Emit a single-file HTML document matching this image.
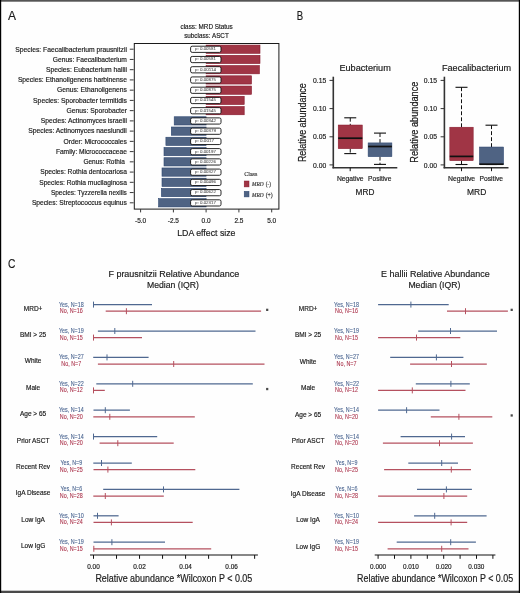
<!DOCTYPE html>
<html><head><meta charset="utf-8"><style>
html,body{margin:0;padding:0;background:#fff;}
svg{display:block;will-change:transform;}
text{stroke:currentColor;stroke-width:0.18px;paint-order:stroke;}
svg{font-family:"Liberation Sans",sans-serif;}
</style></head><body>
<svg width="520" height="593" viewBox="0 0 520 593">
<rect width="520" height="593" fill="#fefefe"/>
<text x="8.00" y="19.60" font-size="12.5" textLength="8.00" lengthAdjust="spacingAndGlyphs" fill="#1a1a1a" color="#1a1a1a">A</text>
<text x="180.50" y="28.80" font-size="6.8" textLength="52.30" lengthAdjust="spacingAndGlyphs" fill="#1a1a1a" color="#1a1a1a">class: MRD Status</text>
<text x="184.20" y="37.60" font-size="6.8" textLength="44.60" lengthAdjust="spacingAndGlyphs" fill="#1a1a1a" color="#1a1a1a">subclass: ASCT</text>
<text x="15.30" y="51.50" font-size="7.1" textLength="111.60" lengthAdjust="spacingAndGlyphs" fill="#1a1a1a" color="#1a1a1a">Species: Faecalibacterium prausnitzii</text>
<line x1="129.80" y1="49.20" x2="133.60" y2="49.20" stroke="#222" stroke-width="0.9"/>
<rect x="206.10" y="45.08" width="53.90" height="8.25" fill="#a03545" stroke="#86182c" stroke-width="0.6"/>
<text x="52.80" y="61.74" font-size="7.1" textLength="74.10" lengthAdjust="spacingAndGlyphs" fill="#1a1a1a" color="#1a1a1a">Genus: Faecalibacterium</text>
<line x1="129.80" y1="59.44" x2="133.60" y2="59.44" stroke="#222" stroke-width="0.9"/>
<rect x="206.10" y="55.32" width="53.90" height="8.25" fill="#a03545" stroke="#86182c" stroke-width="0.6"/>
<text x="45.90" y="71.98" font-size="7.1" textLength="81.00" lengthAdjust="spacingAndGlyphs" fill="#1a1a1a" color="#1a1a1a">Species: Eubacterium hallii</text>
<line x1="129.80" y1="69.68" x2="133.60" y2="69.68" stroke="#222" stroke-width="0.9"/>
<rect x="206.10" y="65.56" width="53.30" height="8.25" fill="#a03545" stroke="#86182c" stroke-width="0.6"/>
<text x="17.90" y="82.22" font-size="7.1" textLength="109.00" lengthAdjust="spacingAndGlyphs" fill="#1a1a1a" color="#1a1a1a">Species: Ethanoligenens harbinense</text>
<line x1="129.80" y1="79.92" x2="133.60" y2="79.92" stroke="#222" stroke-width="0.9"/>
<rect x="206.10" y="75.80" width="45.40" height="8.25" fill="#a03545" stroke="#86182c" stroke-width="0.6"/>
<text x="57.10" y="92.46" font-size="7.1" textLength="69.80" lengthAdjust="spacingAndGlyphs" fill="#1a1a1a" color="#1a1a1a">Genus: Ethanoligenens</text>
<line x1="129.80" y1="90.16" x2="133.60" y2="90.16" stroke="#222" stroke-width="0.9"/>
<rect x="206.10" y="86.04" width="45.40" height="8.25" fill="#a03545" stroke="#86182c" stroke-width="0.6"/>
<text x="33.10" y="102.70" font-size="7.1" textLength="93.80" lengthAdjust="spacingAndGlyphs" fill="#1a1a1a" color="#1a1a1a">Species: Sporobacter termitidis</text>
<line x1="129.80" y1="100.40" x2="133.60" y2="100.40" stroke="#222" stroke-width="0.9"/>
<rect x="206.10" y="96.28" width="38.10" height="8.25" fill="#a03545" stroke="#86182c" stroke-width="0.6"/>
<text x="66.50" y="112.94" font-size="7.1" textLength="60.40" lengthAdjust="spacingAndGlyphs" fill="#1a1a1a" color="#1a1a1a">Genus: Sporobacter</text>
<line x1="129.80" y1="110.64" x2="133.60" y2="110.64" stroke="#222" stroke-width="0.9"/>
<rect x="206.10" y="106.52" width="38.10" height="8.25" fill="#a03545" stroke="#86182c" stroke-width="0.6"/>
<text x="40.70" y="123.18" font-size="7.1" textLength="86.20" lengthAdjust="spacingAndGlyphs" fill="#1a1a1a" color="#1a1a1a">Species: Actinomyces israelii</text>
<line x1="129.80" y1="120.88" x2="133.60" y2="120.88" stroke="#222" stroke-width="0.9"/>
<rect x="174.20" y="116.76" width="31.90" height="8.25" fill="#4f6383" stroke="#2d4670" stroke-width="0.6"/>
<text x="28.20" y="133.42" font-size="7.1" textLength="98.70" lengthAdjust="spacingAndGlyphs" fill="#1a1a1a" color="#1a1a1a">Species: Actinomyces naeslundii</text>
<line x1="129.80" y1="131.12" x2="133.60" y2="131.12" stroke="#222" stroke-width="0.9"/>
<rect x="171.30" y="127.00" width="34.80" height="8.25" fill="#4f6383" stroke="#2d4670" stroke-width="0.6"/>
<text x="63.50" y="143.66" font-size="7.1" textLength="63.40" lengthAdjust="spacingAndGlyphs" fill="#1a1a1a" color="#1a1a1a">Order: Micrococcales</text>
<line x1="129.80" y1="141.36" x2="133.60" y2="141.36" stroke="#222" stroke-width="0.9"/>
<rect x="165.90" y="137.24" width="40.20" height="8.25" fill="#4f6383" stroke="#2d4670" stroke-width="0.6"/>
<text x="55.90" y="153.90" font-size="7.1" textLength="71.00" lengthAdjust="spacingAndGlyphs" fill="#1a1a1a" color="#1a1a1a">Family: Micrococcaceae</text>
<line x1="129.80" y1="151.60" x2="133.60" y2="151.60" stroke="#222" stroke-width="0.9"/>
<rect x="164.00" y="147.48" width="42.10" height="8.25" fill="#4f6383" stroke="#2d4670" stroke-width="0.6"/>
<text x="83.40" y="164.14" font-size="7.1" textLength="41.60" lengthAdjust="spacingAndGlyphs" fill="#1a1a1a" color="#1a1a1a">Genus: Rothia</text>
<line x1="129.80" y1="161.84" x2="133.60" y2="161.84" stroke="#222" stroke-width="0.9"/>
<rect x="164.00" y="157.72" width="42.10" height="8.25" fill="#4f6383" stroke="#2d4670" stroke-width="0.6"/>
<text x="40.20" y="174.38" font-size="7.1" textLength="86.70" lengthAdjust="spacingAndGlyphs" fill="#1a1a1a" color="#1a1a1a">Species: Rothia dentocariosa</text>
<line x1="129.80" y1="172.08" x2="133.60" y2="172.08" stroke="#222" stroke-width="0.9"/>
<rect x="162.00" y="167.96" width="44.10" height="8.25" fill="#4f6383" stroke="#2d4670" stroke-width="0.6"/>
<text x="39.20" y="184.62" font-size="7.1" textLength="87.70" lengthAdjust="spacingAndGlyphs" fill="#1a1a1a" color="#1a1a1a">Species: Rothia mucilaginosa</text>
<line x1="129.80" y1="182.32" x2="133.60" y2="182.32" stroke="#222" stroke-width="0.9"/>
<rect x="162.00" y="178.20" width="44.10" height="8.25" fill="#4f6383" stroke="#2d4670" stroke-width="0.6"/>
<text x="50.90" y="194.86" font-size="7.1" textLength="76.00" lengthAdjust="spacingAndGlyphs" fill="#1a1a1a" color="#1a1a1a">Species: Tyzzerella nexilis</text>
<line x1="129.80" y1="192.56" x2="133.60" y2="192.56" stroke="#222" stroke-width="0.9"/>
<rect x="161.40" y="188.44" width="44.70" height="8.25" fill="#4f6383" stroke="#2d4670" stroke-width="0.6"/>
<text x="31.90" y="205.10" font-size="7.1" textLength="95.00" lengthAdjust="spacingAndGlyphs" fill="#1a1a1a" color="#1a1a1a">Species: Streptococcus equinus</text>
<line x1="129.80" y1="202.80" x2="133.60" y2="202.80" stroke="#222" stroke-width="0.9"/>
<rect x="158.60" y="198.68" width="47.50" height="8.25" fill="#4f6383" stroke="#2d4670" stroke-width="0.6"/>
<rect x="190.60" y="46.20" width="30.40" height="6.20" fill="#fff" stroke="#111" stroke-width="0.9" rx="1.6"/>
<text x="195.00" y="50.10" font-size="4.3" textLength="21.00" lengthAdjust="spacingAndGlyphs" fill="#505050" color="#505050" style="stroke-width:0.06px">p: 0.00581</text>
<rect x="190.60" y="56.44" width="30.40" height="6.20" fill="#fff" stroke="#111" stroke-width="0.9" rx="1.6"/>
<text x="195.00" y="60.34" font-size="4.3" textLength="21.00" lengthAdjust="spacingAndGlyphs" fill="#505050" color="#505050" style="stroke-width:0.06px">p: 0.00581</text>
<rect x="190.60" y="66.68" width="30.40" height="6.20" fill="#fff" stroke="#111" stroke-width="0.9" rx="1.6"/>
<text x="195.00" y="70.58" font-size="4.3" textLength="21.00" lengthAdjust="spacingAndGlyphs" fill="#505050" color="#505050" style="stroke-width:0.06px">p: 0.00114</text>
<rect x="190.60" y="76.92" width="30.40" height="6.20" fill="#fff" stroke="#111" stroke-width="0.9" rx="1.6"/>
<text x="195.00" y="80.82" font-size="4.3" textLength="21.00" lengthAdjust="spacingAndGlyphs" fill="#505050" color="#505050" style="stroke-width:0.06px">p: 0.00875</text>
<rect x="190.60" y="87.16" width="30.40" height="6.20" fill="#fff" stroke="#111" stroke-width="0.9" rx="1.6"/>
<text x="195.00" y="91.06" font-size="4.3" textLength="21.00" lengthAdjust="spacingAndGlyphs" fill="#505050" color="#505050" style="stroke-width:0.06px">p: 0.00875</text>
<rect x="190.60" y="97.40" width="30.40" height="6.20" fill="#fff" stroke="#111" stroke-width="0.9" rx="1.6"/>
<text x="195.00" y="101.30" font-size="4.3" textLength="21.00" lengthAdjust="spacingAndGlyphs" fill="#505050" color="#505050" style="stroke-width:0.06px">p: 0.01545</text>
<rect x="190.60" y="107.64" width="30.40" height="6.20" fill="#fff" stroke="#111" stroke-width="0.9" rx="1.6"/>
<text x="195.00" y="111.54" font-size="4.3" textLength="21.00" lengthAdjust="spacingAndGlyphs" fill="#505050" color="#505050" style="stroke-width:0.06px">p: 0.01545</text>
<rect x="190.60" y="117.88" width="30.40" height="6.20" fill="#fff" stroke="#111" stroke-width="0.9" rx="1.6"/>
<text x="195.00" y="121.78" font-size="4.3" textLength="21.00" lengthAdjust="spacingAndGlyphs" fill="#505050" color="#505050" style="stroke-width:0.06px">p: 0.00342</text>
<rect x="190.60" y="128.12" width="30.40" height="6.20" fill="#fff" stroke="#111" stroke-width="0.9" rx="1.6"/>
<text x="195.00" y="132.02" font-size="4.3" textLength="21.00" lengthAdjust="spacingAndGlyphs" fill="#505050" color="#505050" style="stroke-width:0.06px">p: 0.00379</text>
<rect x="190.60" y="138.36" width="30.40" height="6.20" fill="#fff" stroke="#111" stroke-width="0.9" rx="1.6"/>
<text x="195.00" y="142.26" font-size="4.3" textLength="19.00" lengthAdjust="spacingAndGlyphs" fill="#505050" color="#505050" style="stroke-width:0.06px">p: 0.0017</text>
<rect x="190.60" y="148.60" width="30.40" height="6.20" fill="#fff" stroke="#111" stroke-width="0.9" rx="1.6"/>
<text x="195.00" y="152.50" font-size="4.3" textLength="21.00" lengthAdjust="spacingAndGlyphs" fill="#505050" color="#505050" style="stroke-width:0.06px">p: 0.00197</text>
<rect x="190.60" y="158.84" width="30.40" height="6.20" fill="#fff" stroke="#111" stroke-width="0.9" rx="1.6"/>
<text x="195.00" y="162.74" font-size="4.3" textLength="21.00" lengthAdjust="spacingAndGlyphs" fill="#505050" color="#505050" style="stroke-width:0.06px">p: 0.00226</text>
<rect x="190.60" y="169.08" width="30.40" height="6.20" fill="#fff" stroke="#111" stroke-width="0.9" rx="1.6"/>
<text x="195.00" y="172.98" font-size="4.3" textLength="21.00" lengthAdjust="spacingAndGlyphs" fill="#505050" color="#505050" style="stroke-width:0.06px">p: 0.00327</text>
<rect x="190.60" y="179.32" width="30.40" height="6.20" fill="#fff" stroke="#111" stroke-width="0.9" rx="1.6"/>
<text x="195.00" y="183.22" font-size="4.3" textLength="21.00" lengthAdjust="spacingAndGlyphs" fill="#505050" color="#505050" style="stroke-width:0.06px">p: 0.00496</text>
<rect x="190.60" y="189.56" width="30.40" height="6.20" fill="#fff" stroke="#111" stroke-width="0.9" rx="1.6"/>
<text x="195.00" y="193.46" font-size="4.3" textLength="21.00" lengthAdjust="spacingAndGlyphs" fill="#505050" color="#505050" style="stroke-width:0.06px">p: 0.00622</text>
<rect x="190.60" y="199.80" width="30.40" height="6.20" fill="#fff" stroke="#111" stroke-width="0.9" rx="1.6"/>
<text x="195.00" y="203.70" font-size="4.3" textLength="21.00" lengthAdjust="spacingAndGlyphs" fill="#505050" color="#505050" style="stroke-width:0.06px">p: 0.02317</text>
<rect x="134.30" y="43.50" width="144.60" height="165.60" fill="none" stroke="#1a1a1a" stroke-width="1.0"/>
<line x1="140.60" y1="209.20" x2="140.60" y2="212.40" stroke="#222" stroke-width="0.9"/>
<text x="140.60" y="222.90" font-size="7.4" text-anchor="middle" textLength="11.20" lengthAdjust="spacingAndGlyphs" fill="#1a1a1a" color="#1a1a1a">-5.0</text>
<line x1="173.40" y1="209.20" x2="173.40" y2="212.40" stroke="#222" stroke-width="0.9"/>
<text x="173.40" y="222.90" font-size="7.4" text-anchor="middle" textLength="11.20" lengthAdjust="spacingAndGlyphs" fill="#1a1a1a" color="#1a1a1a">-2.5</text>
<line x1="206.10" y1="209.20" x2="206.10" y2="212.40" stroke="#222" stroke-width="0.9"/>
<text x="206.10" y="222.90" font-size="7.4" text-anchor="middle" textLength="9.04" lengthAdjust="spacingAndGlyphs" fill="#1a1a1a" color="#1a1a1a">0.0</text>
<line x1="238.90" y1="209.20" x2="238.90" y2="212.40" stroke="#222" stroke-width="0.9"/>
<text x="238.90" y="222.90" font-size="7.4" text-anchor="middle" textLength="9.04" lengthAdjust="spacingAndGlyphs" fill="#1a1a1a" color="#1a1a1a">2.5</text>
<line x1="271.70" y1="209.20" x2="271.70" y2="212.40" stroke="#222" stroke-width="0.9"/>
<text x="271.70" y="222.90" font-size="7.4" text-anchor="middle" textLength="9.04" lengthAdjust="spacingAndGlyphs" fill="#1a1a1a" color="#1a1a1a">5.0</text>
<text x="177.20" y="235.70" font-size="9.4" textLength="58.30" lengthAdjust="spacingAndGlyphs" fill="#1a1a1a" color="#1a1a1a">LDA effect size</text>
<text x="244.20" y="175.80" font-size="6.3" textLength="13.10" lengthAdjust="spacingAndGlyphs" fill="#333" color="#333" font-family="Liberation Serif">Class</text>
<rect x="244.20" y="181.00" width="4.80" height="5.90" fill="#a03545" stroke="#86182c" stroke-width="0.5"/>
<rect x="244.20" y="191.30" width="4.80" height="5.60" fill="#4f6383" stroke="#2d4670" stroke-width="0.5"/>
<text x="252.10" y="186.20" font-size="6.3" textLength="11.50" lengthAdjust="spacingAndGlyphs" fill="#333" color="#333" font-family="Liberation Serif" font-style="italic">MRD</text>
<text x="265.70" y="186.20" font-size="6.3" textLength="5.20" lengthAdjust="spacingAndGlyphs" fill="#333" color="#333" font-family="Liberation Serif">(-)</text>
<text x="252.10" y="196.50" font-size="6.3" textLength="11.50" lengthAdjust="spacingAndGlyphs" fill="#333" color="#333" font-family="Liberation Serif" font-style="italic">MRD</text>
<text x="265.70" y="196.50" font-size="6.3" textLength="7.00" lengthAdjust="spacingAndGlyphs" fill="#333" color="#333" font-family="Liberation Serif">(+)</text>
<text x="296.70" y="19.60" font-size="12.6" textLength="6.40" lengthAdjust="spacingAndGlyphs" fill="#1a1a1a" color="#1a1a1a">B</text>
<text x="339.40" y="71.00" font-size="9.4" textLength="51.40" lengthAdjust="spacingAndGlyphs" fill="#1a1a1a" color="#1a1a1a">Eubacterium</text>
<line x1="333.30" y1="76.70" x2="333.30" y2="168.30" stroke="#333" stroke-width="1.6"/>
<line x1="332.50" y1="167.70" x2="397.30" y2="167.70" stroke="#333" stroke-width="1.6"/>
<line x1="329.50" y1="80.40" x2="333.30" y2="80.40" stroke="#333" stroke-width="1.0"/>
<text x="326.30" y="83.00" font-size="7.2" text-anchor="end" textLength="13.20" lengthAdjust="spacingAndGlyphs" fill="#1a1a1a" color="#1a1a1a">0.15</text>
<line x1="329.50" y1="108.60" x2="333.30" y2="108.60" stroke="#333" stroke-width="1.0"/>
<text x="326.30" y="111.20" font-size="7.2" text-anchor="end" textLength="13.20" lengthAdjust="spacingAndGlyphs" fill="#1a1a1a" color="#1a1a1a">0.10</text>
<line x1="329.50" y1="136.80" x2="333.30" y2="136.80" stroke="#333" stroke-width="1.0"/>
<text x="326.30" y="139.40" font-size="7.2" text-anchor="end" textLength="13.20" lengthAdjust="spacingAndGlyphs" fill="#1a1a1a" color="#1a1a1a">0.05</text>
<line x1="329.50" y1="164.90" x2="333.30" y2="164.90" stroke="#333" stroke-width="1.0"/>
<text x="326.30" y="167.50" font-size="7.2" text-anchor="end" textLength="13.20" lengthAdjust="spacingAndGlyphs" fill="#1a1a1a" color="#1a1a1a">0.00</text>
<line x1="350.20" y1="167.70" x2="350.20" y2="171.20" stroke="#111" stroke-width="1.0"/>
<line x1="379.90" y1="167.70" x2="379.90" y2="171.20" stroke="#111" stroke-width="1.0"/>
<text x="337.00" y="181.30" font-size="6.9" textLength="26.60" lengthAdjust="spacingAndGlyphs" fill="#1a1a1a" color="#1a1a1a">Negative</text>
<text x="368.10" y="181.30" font-size="6.9" textLength="23.30" lengthAdjust="spacingAndGlyphs" fill="#1a1a1a" color="#1a1a1a">Positive</text>
<text x="355.60" y="195.00" font-size="9.2" textLength="18.80" lengthAdjust="spacingAndGlyphs" fill="#1a1a1a" color="#1a1a1a">MRD</text>
<text transform="translate(306.30,162.10) rotate(-90)" x="0" y="0" font-size="10.0" textLength="78.90" lengthAdjust="spacingAndGlyphs" fill="#1a1a1a">Relative abundance</text>
<line x1="350.25" y1="117.80" x2="350.25" y2="125.00" stroke="#111" stroke-width="1.0" stroke-dasharray="3.9,2.1"/>
<line x1="344.25" y1="117.80" x2="356.25" y2="117.80" stroke="#111" stroke-width="1.1"/>
<line x1="350.25" y1="148.70" x2="350.25" y2="153.60" stroke="#111" stroke-width="1.0" stroke-dasharray="3.9,2.1"/>
<line x1="344.25" y1="153.60" x2="356.25" y2="153.60" stroke="#111" stroke-width="1.1"/>
<rect x="338.20" y="125.00" width="24.10" height="23.70" fill="#a03545" stroke="#86182c" stroke-width="0.5"/>
<line x1="338.20" y1="138.20" x2="362.30" y2="138.20" stroke="#111" stroke-width="1.7"/>
<line x1="380.00" y1="133.10" x2="380.00" y2="142.90" stroke="#111" stroke-width="1.0" stroke-dasharray="3.9,2.1"/>
<line x1="374.00" y1="133.10" x2="386.00" y2="133.10" stroke="#111" stroke-width="1.1"/>
<line x1="380.00" y1="156.70" x2="380.00" y2="164.40" stroke="#111" stroke-width="1.0" stroke-dasharray="3.9,2.1"/>
<line x1="374.00" y1="164.40" x2="386.00" y2="164.40" stroke="#111" stroke-width="1.1"/>
<rect x="368.10" y="142.90" width="23.80" height="13.80" fill="#4f6383" stroke="#2d4670" stroke-width="0.5"/>
<line x1="368.10" y1="146.50" x2="391.90" y2="146.50" stroke="#111" stroke-width="1.7"/>
<text x="442.00" y="71.00" font-size="9.4" textLength="69.20" lengthAdjust="spacingAndGlyphs" fill="#1a1a1a" color="#1a1a1a">Faecalibacterium</text>
<line x1="444.40" y1="76.70" x2="444.40" y2="168.30" stroke="#333" stroke-width="1.6"/>
<line x1="443.60" y1="167.70" x2="508.50" y2="167.70" stroke="#333" stroke-width="1.6"/>
<line x1="440.60" y1="80.40" x2="444.40" y2="80.40" stroke="#333" stroke-width="1.0"/>
<text x="437.00" y="83.00" font-size="7.2" text-anchor="end" textLength="13.20" lengthAdjust="spacingAndGlyphs" fill="#1a1a1a" color="#1a1a1a">0.15</text>
<line x1="440.60" y1="108.60" x2="444.40" y2="108.60" stroke="#333" stroke-width="1.0"/>
<text x="437.00" y="111.20" font-size="7.2" text-anchor="end" textLength="13.20" lengthAdjust="spacingAndGlyphs" fill="#1a1a1a" color="#1a1a1a">0.10</text>
<line x1="440.60" y1="136.80" x2="444.40" y2="136.80" stroke="#333" stroke-width="1.0"/>
<text x="437.00" y="139.40" font-size="7.2" text-anchor="end" textLength="13.20" lengthAdjust="spacingAndGlyphs" fill="#1a1a1a" color="#1a1a1a">0.05</text>
<line x1="440.60" y1="164.90" x2="444.40" y2="164.90" stroke="#333" stroke-width="1.0"/>
<text x="437.00" y="167.50" font-size="7.2" text-anchor="end" textLength="13.20" lengthAdjust="spacingAndGlyphs" fill="#1a1a1a" color="#1a1a1a">0.00</text>
<line x1="461.50" y1="167.70" x2="461.50" y2="171.20" stroke="#111" stroke-width="1.0"/>
<line x1="491.50" y1="167.70" x2="491.50" y2="171.20" stroke="#111" stroke-width="1.0"/>
<text x="448.00" y="181.30" font-size="6.9" textLength="27.20" lengthAdjust="spacingAndGlyphs" fill="#1a1a1a" color="#1a1a1a">Negative</text>
<text x="479.60" y="181.30" font-size="6.9" textLength="23.40" lengthAdjust="spacingAndGlyphs" fill="#1a1a1a" color="#1a1a1a">Positive</text>
<text x="467.00" y="195.00" font-size="9.2" textLength="19.30" lengthAdjust="spacingAndGlyphs" fill="#1a1a1a" color="#1a1a1a">MRD</text>
<text transform="translate(418.00,162.70) rotate(-90)" x="0" y="0" font-size="10.0" textLength="81.10" lengthAdjust="spacingAndGlyphs" fill="#1a1a1a">Relative abundance</text>
<line x1="461.50" y1="87.30" x2="461.50" y2="127.20" stroke="#111" stroke-width="1.0" stroke-dasharray="3.9,2.1"/>
<line x1="455.50" y1="87.30" x2="467.50" y2="87.30" stroke="#111" stroke-width="1.1"/>
<line x1="461.50" y1="160.70" x2="461.50" y2="164.50" stroke="#111" stroke-width="1.0" stroke-dasharray="3.9,2.1"/>
<line x1="455.50" y1="164.50" x2="467.50" y2="164.50" stroke="#111" stroke-width="1.1"/>
<rect x="449.80" y="127.20" width="23.40" height="33.50" fill="#a03545" stroke="#86182c" stroke-width="0.5"/>
<line x1="449.80" y1="156.40" x2="473.20" y2="156.40" stroke="#111" stroke-width="1.7"/>
<line x1="491.50" y1="125.20" x2="491.50" y2="147.00" stroke="#111" stroke-width="1.0" stroke-dasharray="3.9,2.1"/>
<line x1="485.50" y1="125.20" x2="497.50" y2="125.20" stroke="#111" stroke-width="1.1"/>
<line x1="485.50" y1="164.50" x2="497.50" y2="164.50" stroke="#111" stroke-width="1.1"/>
<rect x="479.40" y="147.00" width="24.20" height="17.50" fill="#4f6383" stroke="#2d4670" stroke-width="0.5"/>
<line x1="479.40" y1="164.20" x2="503.60" y2="164.20" stroke="#111" stroke-width="1.7"/>
<text x="8.00" y="267.80" font-size="12.3" textLength="7.40" lengthAdjust="spacingAndGlyphs" fill="#1a1a1a" color="#1a1a1a">C</text>
<text x="108.40" y="277.10" font-size="9.6" textLength="130.90" lengthAdjust="spacingAndGlyphs" fill="#1a1a1a" color="#1a1a1a">F prausnitzii Relative Abundance</text>
<text x="147.00" y="288.20" font-size="9.6" textLength="52.00" lengthAdjust="spacingAndGlyphs" fill="#1a1a1a" color="#1a1a1a">Median (IQR)</text>
<text x="33.10" y="310.50" font-size="7.0" text-anchor="middle" textLength="18.63" lengthAdjust="spacingAndGlyphs" fill="#1a1a1a" color="#1a1a1a">MRD+</text>
<text x="71.30" y="306.60" font-size="6.3" text-anchor="middle" textLength="24.76" lengthAdjust="spacingAndGlyphs" fill="#415d8b" color="#415d8b" style="stroke-width:0.08px">Yes, N=18</text>
<text x="71.30" y="313.10" font-size="6.3" text-anchor="middle" textLength="22.86" lengthAdjust="spacingAndGlyphs" fill="#aa3049" color="#aa3049" style="stroke-width:0.08px">No, N=16</text>
<line x1="93.50" y1="304.60" x2="152.00" y2="304.60" stroke="#4f6890" stroke-width="1.25"/>
<line x1="93.50" y1="301.60" x2="93.50" y2="307.60" stroke="#4f6890" stroke-width="1.0"/>
<line x1="105.70" y1="311.20" x2="261.10" y2="311.20" stroke="#b5505f" stroke-width="1.25"/>
<line x1="126.40" y1="308.20" x2="126.40" y2="314.20" stroke="#b5505f" stroke-width="1.0"/>
<rect x="266.10" y="308.70" width="2.20" height="2.30" fill="#4a4a4a"/>
<text x="33.10" y="336.90" font-size="7.0" text-anchor="middle" textLength="26.23" lengthAdjust="spacingAndGlyphs" fill="#1a1a1a" color="#1a1a1a">BMI &gt; 25</text>
<text x="71.30" y="333.00" font-size="6.3" text-anchor="middle" textLength="24.76" lengthAdjust="spacingAndGlyphs" fill="#415d8b" color="#415d8b" style="stroke-width:0.08px">Yes, N=19</text>
<text x="71.30" y="339.50" font-size="6.3" text-anchor="middle" textLength="22.86" lengthAdjust="spacingAndGlyphs" fill="#aa3049" color="#aa3049" style="stroke-width:0.08px">No, N=15</text>
<line x1="97.90" y1="331.00" x2="255.50" y2="331.00" stroke="#4f6890" stroke-width="1.25"/>
<line x1="114.80" y1="328.00" x2="114.80" y2="334.00" stroke="#4f6890" stroke-width="1.0"/>
<line x1="93.50" y1="337.60" x2="142.00" y2="337.60" stroke="#b5505f" stroke-width="1.25"/>
<line x1="93.50" y1="334.60" x2="93.50" y2="340.60" stroke="#b5505f" stroke-width="1.0"/>
<text x="33.10" y="363.30" font-size="7.0" text-anchor="middle" textLength="16.64" lengthAdjust="spacingAndGlyphs" fill="#1a1a1a" color="#1a1a1a">White</text>
<text x="71.30" y="359.40" font-size="6.3" text-anchor="middle" textLength="24.76" lengthAdjust="spacingAndGlyphs" fill="#415d8b" color="#415d8b" style="stroke-width:0.08px">Yes, N=27</text>
<text x="71.30" y="365.90" font-size="6.3" text-anchor="middle" textLength="19.87" lengthAdjust="spacingAndGlyphs" fill="#aa3049" color="#aa3049" style="stroke-width:0.08px">No, N=7</text>
<line x1="93.20" y1="357.40" x2="148.60" y2="357.40" stroke="#4f6890" stroke-width="1.25"/>
<line x1="107.00" y1="354.40" x2="107.00" y2="360.40" stroke="#4f6890" stroke-width="1.0"/>
<line x1="97.90" y1="364.00" x2="264.50" y2="364.00" stroke="#b5505f" stroke-width="1.25"/>
<line x1="173.70" y1="361.00" x2="173.70" y2="367.00" stroke="#b5505f" stroke-width="1.0"/>
<text x="33.10" y="389.70" font-size="7.0" text-anchor="middle" textLength="14.11" lengthAdjust="spacingAndGlyphs" fill="#1a1a1a" color="#1a1a1a">Male</text>
<text x="71.30" y="385.80" font-size="6.3" text-anchor="middle" textLength="24.76" lengthAdjust="spacingAndGlyphs" fill="#415d8b" color="#415d8b" style="stroke-width:0.08px">Yes, N=22</text>
<text x="71.30" y="392.30" font-size="6.3" text-anchor="middle" textLength="22.86" lengthAdjust="spacingAndGlyphs" fill="#aa3049" color="#aa3049" style="stroke-width:0.08px">No, N=12</text>
<line x1="96.30" y1="383.80" x2="252.80" y2="383.80" stroke="#4f6890" stroke-width="1.25"/>
<line x1="132.70" y1="380.80" x2="132.70" y2="386.80" stroke="#4f6890" stroke-width="1.0"/>
<line x1="93.50" y1="390.40" x2="104.80" y2="390.40" stroke="#b5505f" stroke-width="1.25"/>
<line x1="93.50" y1="387.40" x2="93.50" y2="393.40" stroke="#b5505f" stroke-width="1.0"/>
<rect x="266.10" y="387.90" width="2.20" height="2.30" fill="#4a4a4a"/>
<text x="33.10" y="416.10" font-size="7.0" text-anchor="middle" textLength="26.24" lengthAdjust="spacingAndGlyphs" fill="#1a1a1a" color="#1a1a1a">Age &gt; 65</text>
<text x="71.30" y="412.20" font-size="6.3" text-anchor="middle" textLength="24.76" lengthAdjust="spacingAndGlyphs" fill="#415d8b" color="#415d8b" style="stroke-width:0.08px">Yes, N=14</text>
<text x="71.30" y="418.70" font-size="6.3" text-anchor="middle" textLength="22.86" lengthAdjust="spacingAndGlyphs" fill="#aa3049" color="#aa3049" style="stroke-width:0.08px">No, N=20</text>
<line x1="93.50" y1="410.20" x2="129.90" y2="410.20" stroke="#4f6890" stroke-width="1.25"/>
<line x1="105.30" y1="407.20" x2="105.30" y2="413.20" stroke="#4f6890" stroke-width="1.0"/>
<line x1="93.30" y1="416.80" x2="194.80" y2="416.80" stroke="#b5505f" stroke-width="1.25"/>
<line x1="109.80" y1="413.80" x2="109.80" y2="419.80" stroke="#b5505f" stroke-width="1.0"/>
<text x="33.10" y="442.50" font-size="7.0" text-anchor="middle" textLength="32.56" lengthAdjust="spacingAndGlyphs" fill="#1a1a1a" color="#1a1a1a">Prior ASCT</text>
<text x="71.30" y="438.60" font-size="6.3" text-anchor="middle" textLength="24.76" lengthAdjust="spacingAndGlyphs" fill="#415d8b" color="#415d8b" style="stroke-width:0.08px">Yes, N=14</text>
<text x="71.30" y="445.10" font-size="6.3" text-anchor="middle" textLength="22.86" lengthAdjust="spacingAndGlyphs" fill="#aa3049" color="#aa3049" style="stroke-width:0.08px">No, N=20</text>
<line x1="93.50" y1="436.60" x2="157.20" y2="436.60" stroke="#4f6890" stroke-width="1.25"/>
<line x1="93.50" y1="433.60" x2="93.50" y2="439.60" stroke="#4f6890" stroke-width="1.0"/>
<line x1="99.60" y1="443.20" x2="173.70" y2="443.20" stroke="#b5505f" stroke-width="1.25"/>
<line x1="117.80" y1="440.20" x2="117.80" y2="446.20" stroke="#b5505f" stroke-width="1.0"/>
<text x="33.10" y="468.90" font-size="7.0" text-anchor="middle" textLength="34.01" lengthAdjust="spacingAndGlyphs" fill="#1a1a1a" color="#1a1a1a">Recent Rev</text>
<text x="71.30" y="465.00" font-size="6.3" text-anchor="middle" textLength="21.77" lengthAdjust="spacingAndGlyphs" fill="#415d8b" color="#415d8b" style="stroke-width:0.08px">Yes, N=9</text>
<text x="71.30" y="471.50" font-size="6.3" text-anchor="middle" textLength="22.86" lengthAdjust="spacingAndGlyphs" fill="#aa3049" color="#aa3049" style="stroke-width:0.08px">No, N=25</text>
<line x1="93.30" y1="463.00" x2="131.80" y2="463.00" stroke="#4f6890" stroke-width="1.25"/>
<line x1="101.50" y1="460.00" x2="101.50" y2="466.00" stroke="#4f6890" stroke-width="1.0"/>
<line x1="93.50" y1="469.60" x2="195.30" y2="469.60" stroke="#b5505f" stroke-width="1.25"/>
<line x1="107.90" y1="466.60" x2="107.90" y2="472.60" stroke="#b5505f" stroke-width="1.0"/>
<text x="33.10" y="495.30" font-size="7.0" text-anchor="middle" textLength="34.74" lengthAdjust="spacingAndGlyphs" fill="#1a1a1a" color="#1a1a1a">IgA Disease</text>
<text x="71.30" y="491.40" font-size="6.3" text-anchor="middle" textLength="21.77" lengthAdjust="spacingAndGlyphs" fill="#415d8b" color="#415d8b" style="stroke-width:0.08px">Yes, N=6</text>
<text x="71.30" y="497.90" font-size="6.3" text-anchor="middle" textLength="22.86" lengthAdjust="spacingAndGlyphs" fill="#aa3049" color="#aa3049" style="stroke-width:0.08px">No, N=28</text>
<line x1="103.20" y1="489.40" x2="239.40" y2="489.40" stroke="#4f6890" stroke-width="1.25"/>
<line x1="163.50" y1="486.40" x2="163.50" y2="492.40" stroke="#4f6890" stroke-width="1.0"/>
<line x1="93.30" y1="496.00" x2="163.80" y2="496.00" stroke="#b5505f" stroke-width="1.25"/>
<line x1="105.30" y1="493.00" x2="105.30" y2="499.00" stroke="#b5505f" stroke-width="1.0"/>
<text x="33.10" y="521.70" font-size="7.0" text-anchor="middle" textLength="23.52" lengthAdjust="spacingAndGlyphs" fill="#1a1a1a" color="#1a1a1a">Low IgA</text>
<text x="71.30" y="517.80" font-size="6.3" text-anchor="middle" textLength="24.76" lengthAdjust="spacingAndGlyphs" fill="#415d8b" color="#415d8b" style="stroke-width:0.08px">Yes, N=10</text>
<text x="71.30" y="524.30" font-size="6.3" text-anchor="middle" textLength="22.86" lengthAdjust="spacingAndGlyphs" fill="#aa3049" color="#aa3049" style="stroke-width:0.08px">No, N=24</text>
<line x1="93.50" y1="515.80" x2="118.60" y2="515.80" stroke="#4f6890" stroke-width="1.25"/>
<line x1="97.50" y1="512.80" x2="97.50" y2="518.80" stroke="#4f6890" stroke-width="1.0"/>
<line x1="93.50" y1="522.40" x2="192.70" y2="522.40" stroke="#b5505f" stroke-width="1.25"/>
<line x1="111.40" y1="519.40" x2="111.40" y2="525.40" stroke="#b5505f" stroke-width="1.0"/>
<text x="33.10" y="548.10" font-size="7.0" text-anchor="middle" textLength="24.24" lengthAdjust="spacingAndGlyphs" fill="#1a1a1a" color="#1a1a1a">Low IgG</text>
<text x="71.30" y="544.20" font-size="6.3" text-anchor="middle" textLength="24.76" lengthAdjust="spacingAndGlyphs" fill="#415d8b" color="#415d8b" style="stroke-width:0.08px">Yes, N=19</text>
<text x="71.30" y="550.70" font-size="6.3" text-anchor="middle" textLength="22.86" lengthAdjust="spacingAndGlyphs" fill="#aa3049" color="#aa3049" style="stroke-width:0.08px">No, N=15</text>
<line x1="93.50" y1="542.20" x2="165.00" y2="542.20" stroke="#4f6890" stroke-width="1.25"/>
<line x1="111.90" y1="539.20" x2="111.90" y2="545.20" stroke="#4f6890" stroke-width="1.0"/>
<line x1="93.50" y1="548.80" x2="211.20" y2="548.80" stroke="#b5505f" stroke-width="1.25"/>
<line x1="93.80" y1="545.80" x2="93.80" y2="551.80" stroke="#b5505f" stroke-width="1.0"/>
<line x1="90.00" y1="555.00" x2="257.90" y2="555.00" stroke="#111" stroke-width="1.2"/>
<line x1="93.50" y1="555.00" x2="93.50" y2="558.80" stroke="#111" stroke-width="1.0"/>
<line x1="116.52" y1="555.00" x2="116.52" y2="558.80" stroke="#111" stroke-width="1.0"/>
<line x1="139.54" y1="555.00" x2="139.54" y2="558.80" stroke="#111" stroke-width="1.0"/>
<line x1="162.56" y1="555.00" x2="162.56" y2="558.80" stroke="#111" stroke-width="1.0"/>
<line x1="185.58" y1="555.00" x2="185.58" y2="558.80" stroke="#111" stroke-width="1.0"/>
<line x1="208.60" y1="555.00" x2="208.60" y2="558.80" stroke="#111" stroke-width="1.0"/>
<line x1="231.62" y1="555.00" x2="231.62" y2="558.80" stroke="#111" stroke-width="1.0"/>
<line x1="254.64" y1="555.00" x2="254.64" y2="558.80" stroke="#111" stroke-width="1.0"/>
<text x="93.50" y="568.70" font-size="7.2" text-anchor="middle" textLength="12.50" lengthAdjust="spacingAndGlyphs" fill="#1a1a1a" color="#1a1a1a">0.00</text>
<text x="139.50" y="568.70" font-size="7.2" text-anchor="middle" textLength="12.50" lengthAdjust="spacingAndGlyphs" fill="#1a1a1a" color="#1a1a1a">0.02</text>
<text x="185.60" y="568.70" font-size="7.2" text-anchor="middle" textLength="12.50" lengthAdjust="spacingAndGlyphs" fill="#1a1a1a" color="#1a1a1a">0.04</text>
<text x="231.60" y="568.70" font-size="7.2" text-anchor="middle" textLength="12.50" lengthAdjust="spacingAndGlyphs" fill="#1a1a1a" color="#1a1a1a">0.06</text>
<text x="95.40" y="581.90" font-size="10.0" textLength="156.90" lengthAdjust="spacingAndGlyphs" fill="#1a1a1a" color="#1a1a1a">Relative abundance *Wilcoxon P &lt; 0.05</text>
<text x="381.00" y="277.10" font-size="9.6" textLength="108.70" lengthAdjust="spacingAndGlyphs" fill="#1a1a1a" color="#1a1a1a">E hallii Relative Abundance</text>
<text x="408.40" y="288.20" font-size="9.6" textLength="51.90" lengthAdjust="spacingAndGlyphs" fill="#1a1a1a" color="#1a1a1a">Median (IQR)</text>
<text x="308.10" y="310.90" font-size="7.0" text-anchor="middle" textLength="18.63" lengthAdjust="spacingAndGlyphs" fill="#1a1a1a" color="#1a1a1a">MRD+</text>
<text x="346.50" y="306.60" font-size="6.3" text-anchor="middle" textLength="24.76" lengthAdjust="spacingAndGlyphs" fill="#415d8b" color="#415d8b" style="stroke-width:0.08px">Yes, N=18</text>
<text x="346.50" y="313.10" font-size="6.3" text-anchor="middle" textLength="22.86" lengthAdjust="spacingAndGlyphs" fill="#aa3049" color="#aa3049" style="stroke-width:0.08px">No, N=16</text>
<line x1="378.10" y1="304.60" x2="448.70" y2="304.60" stroke="#4f6890" stroke-width="1.25"/>
<line x1="410.90" y1="301.60" x2="410.90" y2="307.60" stroke="#4f6890" stroke-width="1.0"/>
<line x1="447.00" y1="311.20" x2="507.90" y2="311.20" stroke="#b5505f" stroke-width="1.25"/>
<line x1="465.50" y1="308.20" x2="465.50" y2="314.20" stroke="#b5505f" stroke-width="1.0"/>
<rect x="510.60" y="308.70" width="2.20" height="2.30" fill="#4a4a4a"/>
<text x="308.10" y="337.30" font-size="7.0" text-anchor="middle" textLength="26.23" lengthAdjust="spacingAndGlyphs" fill="#1a1a1a" color="#1a1a1a">BMI &gt; 25</text>
<text x="346.50" y="333.00" font-size="6.3" text-anchor="middle" textLength="24.76" lengthAdjust="spacingAndGlyphs" fill="#415d8b" color="#415d8b" style="stroke-width:0.08px">Yes, N=19</text>
<text x="346.50" y="339.50" font-size="6.3" text-anchor="middle" textLength="22.86" lengthAdjust="spacingAndGlyphs" fill="#aa3049" color="#aa3049" style="stroke-width:0.08px">No, N=15</text>
<line x1="418.20" y1="331.00" x2="497.00" y2="331.00" stroke="#4f6890" stroke-width="1.25"/>
<line x1="450.50" y1="328.00" x2="450.50" y2="334.00" stroke="#4f6890" stroke-width="1.0"/>
<line x1="378.10" y1="337.60" x2="460.30" y2="337.60" stroke="#b5505f" stroke-width="1.25"/>
<line x1="416.50" y1="334.60" x2="416.50" y2="340.60" stroke="#b5505f" stroke-width="1.0"/>
<text x="308.10" y="363.70" font-size="7.0" text-anchor="middle" textLength="16.64" lengthAdjust="spacingAndGlyphs" fill="#1a1a1a" color="#1a1a1a">White</text>
<text x="346.50" y="359.40" font-size="6.3" text-anchor="middle" textLength="24.76" lengthAdjust="spacingAndGlyphs" fill="#415d8b" color="#415d8b" style="stroke-width:0.08px">Yes, N=27</text>
<text x="346.50" y="365.90" font-size="6.3" text-anchor="middle" textLength="19.87" lengthAdjust="spacingAndGlyphs" fill="#aa3049" color="#aa3049" style="stroke-width:0.08px">No, N=7</text>
<line x1="390.20" y1="357.40" x2="463.40" y2="357.40" stroke="#4f6890" stroke-width="1.25"/>
<line x1="436.40" y1="354.40" x2="436.40" y2="360.40" stroke="#4f6890" stroke-width="1.0"/>
<line x1="410.10" y1="364.00" x2="486.80" y2="364.00" stroke="#b5505f" stroke-width="1.25"/>
<line x1="451.50" y1="361.00" x2="451.50" y2="367.00" stroke="#b5505f" stroke-width="1.0"/>
<text x="308.10" y="390.10" font-size="7.0" text-anchor="middle" textLength="14.11" lengthAdjust="spacingAndGlyphs" fill="#1a1a1a" color="#1a1a1a">Male</text>
<text x="346.50" y="385.80" font-size="6.3" text-anchor="middle" textLength="24.76" lengthAdjust="spacingAndGlyphs" fill="#415d8b" color="#415d8b" style="stroke-width:0.08px">Yes, N=22</text>
<text x="346.50" y="392.30" font-size="6.3" text-anchor="middle" textLength="22.86" lengthAdjust="spacingAndGlyphs" fill="#aa3049" color="#aa3049" style="stroke-width:0.08px">No, N=12</text>
<line x1="415.80" y1="383.80" x2="469.80" y2="383.80" stroke="#4f6890" stroke-width="1.25"/>
<line x1="450.90" y1="380.80" x2="450.90" y2="386.80" stroke="#4f6890" stroke-width="1.0"/>
<line x1="378.10" y1="390.40" x2="465.50" y2="390.40" stroke="#b5505f" stroke-width="1.25"/>
<line x1="412.30" y1="387.40" x2="412.30" y2="393.40" stroke="#b5505f" stroke-width="1.0"/>
<text x="308.10" y="416.50" font-size="7.0" text-anchor="middle" textLength="26.24" lengthAdjust="spacingAndGlyphs" fill="#1a1a1a" color="#1a1a1a">Age &gt; 65</text>
<text x="346.50" y="412.20" font-size="6.3" text-anchor="middle" textLength="24.76" lengthAdjust="spacingAndGlyphs" fill="#415d8b" color="#415d8b" style="stroke-width:0.08px">Yes, N=14</text>
<text x="346.50" y="418.70" font-size="6.3" text-anchor="middle" textLength="22.86" lengthAdjust="spacingAndGlyphs" fill="#aa3049" color="#aa3049" style="stroke-width:0.08px">No, N=20</text>
<line x1="378.10" y1="410.20" x2="439.50" y2="410.20" stroke="#4f6890" stroke-width="1.25"/>
<line x1="406.60" y1="407.20" x2="406.60" y2="413.20" stroke="#4f6890" stroke-width="1.0"/>
<line x1="430.80" y1="416.80" x2="492.30" y2="416.80" stroke="#b5505f" stroke-width="1.25"/>
<line x1="458.90" y1="413.80" x2="458.90" y2="419.80" stroke="#b5505f" stroke-width="1.0"/>
<rect x="510.60" y="414.30" width="2.20" height="2.30" fill="#4a4a4a"/>
<text x="308.10" y="442.90" font-size="7.0" text-anchor="middle" textLength="32.56" lengthAdjust="spacingAndGlyphs" fill="#1a1a1a" color="#1a1a1a">Prior ASCT</text>
<text x="346.50" y="438.60" font-size="6.3" text-anchor="middle" textLength="24.76" lengthAdjust="spacingAndGlyphs" fill="#415d8b" color="#415d8b" style="stroke-width:0.08px">Yes, N=14</text>
<text x="346.50" y="445.10" font-size="6.3" text-anchor="middle" textLength="22.86" lengthAdjust="spacingAndGlyphs" fill="#aa3049" color="#aa3049" style="stroke-width:0.08px">No, N=20</text>
<line x1="400.60" y1="436.60" x2="465.00" y2="436.60" stroke="#4f6890" stroke-width="1.25"/>
<line x1="451.60" y1="433.60" x2="451.60" y2="439.60" stroke="#4f6890" stroke-width="1.0"/>
<line x1="382.90" y1="443.20" x2="472.90" y2="443.20" stroke="#b5505f" stroke-width="1.25"/>
<line x1="439.50" y1="440.20" x2="439.50" y2="446.20" stroke="#b5505f" stroke-width="1.0"/>
<text x="308.10" y="469.30" font-size="7.0" text-anchor="middle" textLength="34.01" lengthAdjust="spacingAndGlyphs" fill="#1a1a1a" color="#1a1a1a">Recent Rev</text>
<text x="346.50" y="465.00" font-size="6.3" text-anchor="middle" textLength="21.77" lengthAdjust="spacingAndGlyphs" fill="#415d8b" color="#415d8b" style="stroke-width:0.08px">Yes, N=9</text>
<text x="346.50" y="471.50" font-size="6.3" text-anchor="middle" textLength="22.86" lengthAdjust="spacingAndGlyphs" fill="#aa3049" color="#aa3049" style="stroke-width:0.08px">No, N=25</text>
<line x1="408.30" y1="463.00" x2="458.00" y2="463.00" stroke="#4f6890" stroke-width="1.25"/>
<line x1="441.70" y1="460.00" x2="441.70" y2="466.00" stroke="#4f6890" stroke-width="1.0"/>
<line x1="384.10" y1="469.60" x2="471.00" y2="469.60" stroke="#b5505f" stroke-width="1.25"/>
<line x1="451.30" y1="466.60" x2="451.30" y2="472.60" stroke="#b5505f" stroke-width="1.0"/>
<text x="308.10" y="495.70" font-size="7.0" text-anchor="middle" textLength="34.74" lengthAdjust="spacingAndGlyphs" fill="#1a1a1a" color="#1a1a1a">IgA Disease</text>
<text x="346.50" y="491.40" font-size="6.3" text-anchor="middle" textLength="21.77" lengthAdjust="spacingAndGlyphs" fill="#415d8b" color="#415d8b" style="stroke-width:0.08px">Yes, N=6</text>
<text x="346.50" y="497.90" font-size="6.3" text-anchor="middle" textLength="22.86" lengthAdjust="spacingAndGlyphs" fill="#aa3049" color="#aa3049" style="stroke-width:0.08px">No, N=28</text>
<line x1="417.00" y1="489.40" x2="471.90" y2="489.40" stroke="#4f6890" stroke-width="1.25"/>
<line x1="446.40" y1="486.40" x2="446.40" y2="492.40" stroke="#4f6890" stroke-width="1.0"/>
<line x1="378.10" y1="496.00" x2="467.20" y2="496.00" stroke="#b5505f" stroke-width="1.25"/>
<line x1="443.90" y1="493.00" x2="443.90" y2="499.00" stroke="#b5505f" stroke-width="1.0"/>
<text x="308.10" y="522.10" font-size="7.0" text-anchor="middle" textLength="23.52" lengthAdjust="spacingAndGlyphs" fill="#1a1a1a" color="#1a1a1a">Low IgA</text>
<text x="346.50" y="517.80" font-size="6.3" text-anchor="middle" textLength="24.76" lengthAdjust="spacingAndGlyphs" fill="#415d8b" color="#415d8b" style="stroke-width:0.08px">Yes, N=10</text>
<text x="346.50" y="524.30" font-size="6.3" text-anchor="middle" textLength="22.86" lengthAdjust="spacingAndGlyphs" fill="#aa3049" color="#aa3049" style="stroke-width:0.08px">No, N=24</text>
<line x1="414.10" y1="515.80" x2="486.60" y2="515.80" stroke="#4f6890" stroke-width="1.25"/>
<line x1="434.70" y1="512.80" x2="434.70" y2="518.80" stroke="#4f6890" stroke-width="1.0"/>
<line x1="378.10" y1="522.40" x2="467.20" y2="522.40" stroke="#b5505f" stroke-width="1.25"/>
<line x1="451.10" y1="519.40" x2="451.10" y2="525.40" stroke="#b5505f" stroke-width="1.0"/>
<text x="308.10" y="548.50" font-size="7.0" text-anchor="middle" textLength="24.24" lengthAdjust="spacingAndGlyphs" fill="#1a1a1a" color="#1a1a1a">Low IgG</text>
<text x="346.50" y="544.20" font-size="6.3" text-anchor="middle" textLength="24.76" lengthAdjust="spacingAndGlyphs" fill="#415d8b" color="#415d8b" style="stroke-width:0.08px">Yes, N=19</text>
<text x="346.50" y="550.70" font-size="6.3" text-anchor="middle" textLength="22.86" lengthAdjust="spacingAndGlyphs" fill="#aa3049" color="#aa3049" style="stroke-width:0.08px">No, N=15</text>
<line x1="396.70" y1="542.20" x2="475.90" y2="542.20" stroke="#4f6890" stroke-width="1.25"/>
<line x1="450.70" y1="539.20" x2="450.70" y2="545.20" stroke="#4f6890" stroke-width="1.0"/>
<line x1="387.60" y1="548.80" x2="468.50" y2="548.80" stroke="#b5505f" stroke-width="1.25"/>
<line x1="441.70" y1="545.80" x2="441.70" y2="551.80" stroke="#b5505f" stroke-width="1.0"/>
<line x1="374.70" y1="555.00" x2="495.40" y2="555.00" stroke="#111" stroke-width="1.2"/>
<line x1="378.10" y1="555.00" x2="378.10" y2="558.80" stroke="#111" stroke-width="1.0"/>
<line x1="394.50" y1="555.00" x2="394.50" y2="558.80" stroke="#111" stroke-width="1.0"/>
<line x1="410.90" y1="555.00" x2="410.90" y2="558.80" stroke="#111" stroke-width="1.0"/>
<line x1="427.30" y1="555.00" x2="427.30" y2="558.80" stroke="#111" stroke-width="1.0"/>
<line x1="443.70" y1="555.00" x2="443.70" y2="558.80" stroke="#111" stroke-width="1.0"/>
<line x1="460.10" y1="555.00" x2="460.10" y2="558.80" stroke="#111" stroke-width="1.0"/>
<line x1="476.50" y1="555.00" x2="476.50" y2="558.80" stroke="#111" stroke-width="1.0"/>
<line x1="492.90" y1="555.00" x2="492.90" y2="558.80" stroke="#111" stroke-width="1.0"/>
<text x="378.10" y="568.70" font-size="7.2" text-anchor="middle" textLength="16.00" lengthAdjust="spacingAndGlyphs" fill="#1a1a1a" color="#1a1a1a">0.000</text>
<text x="410.90" y="568.70" font-size="7.2" text-anchor="middle" textLength="16.00" lengthAdjust="spacingAndGlyphs" fill="#1a1a1a" color="#1a1a1a">0.010</text>
<text x="443.70" y="568.70" font-size="7.2" text-anchor="middle" textLength="16.00" lengthAdjust="spacingAndGlyphs" fill="#1a1a1a" color="#1a1a1a">0.020</text>
<text x="476.30" y="568.70" font-size="7.2" text-anchor="middle" textLength="16.00" lengthAdjust="spacingAndGlyphs" fill="#1a1a1a" color="#1a1a1a">0.030</text>
<text x="357.10" y="581.90" font-size="10.0" textLength="156.00" lengthAdjust="spacingAndGlyphs" fill="#1a1a1a" color="#1a1a1a">Relative abundance *Wilcoxon P &lt; 0.05</text>
<rect x="0.00" y="0.00" width="520.00" height="1.70" fill="#555"/>
<rect x="0.00" y="590.70" width="520.00" height="2.30" fill="#4a4a4a"/>
<rect x="0.00" y="0.00" width="1.20" height="593.00" fill="#000"/>
<rect x="518.80" y="0.00" width="1.20" height="593.00" fill="#000"/>
</svg></body></html>
